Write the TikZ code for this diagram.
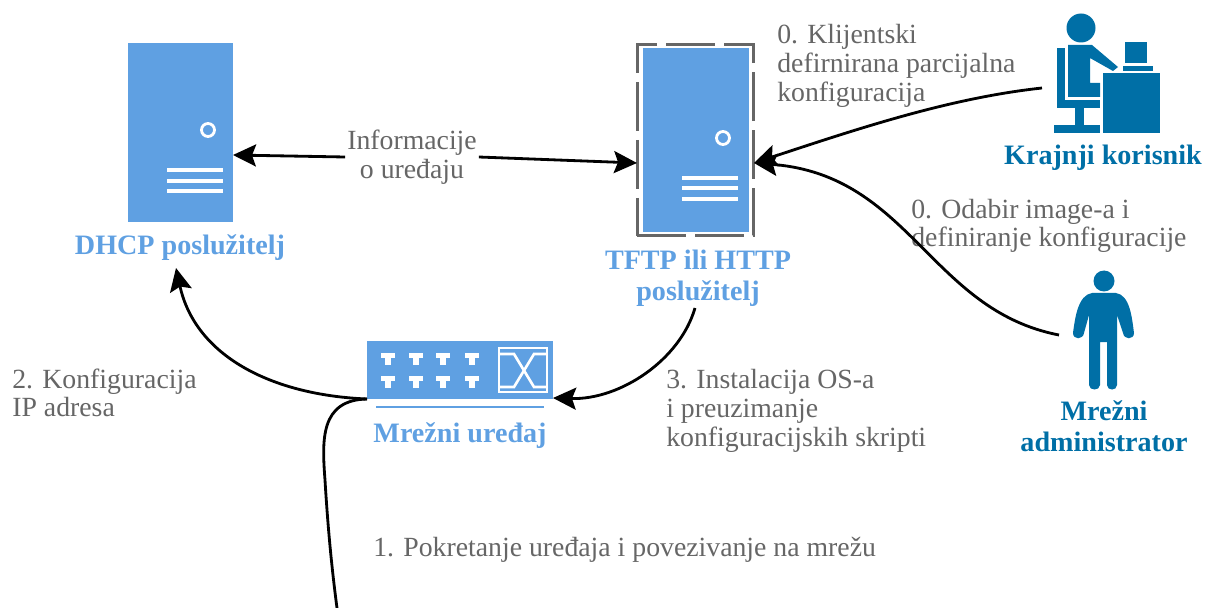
\documentclass[tikz,border=0pt]{standalone}
\usepackage{fontspec}
\setmainfont{Liberation Serif}
\usetikzlibrary{arrows.meta,positioning,calc}

\definecolor{srvblue}{HTML}{5FA0E2}
\definecolor{usrblue}{HTML}{006FA6}
\definecolor{txtgray}{HTML}{666666}

\begin{document}
\begin{tikzpicture}[
    x=0.02cm, y=-0.02cm,
    server/.style={rectangle, fill=srvblue, minimum width=2.1cm, minimum height=3.6cm, inner sep=0pt},
    frame/.style={rectangle, draw=black!60, line width=1.7pt, dash pattern=on 0.98cm off 0.18cm, minimum width=2.34cm, minimum height=3.84cm, inner sep=0pt},
    switch/.style={rectangle, fill=srvblue, minimum width=3.72cm, minimum height=1.16cm, inner sep=0pt},
    srvlabel/.style={font=\fontsize{16}{17.4}\selectfont\bfseries, text=srvblue, align=center},
    usrlabel/.style={font=\fontsize{16}{17.4}\selectfont\bfseries, text=usrblue, align=center},
    step_label/.style={font=\fontsize{15.8}{16.3}\selectfont, text=txtgray, align=left, anchor=west, inner sep=0pt},
    link/.style={-{Stealth[length=0.46cm,width=0.44cm,inset=0.08cm]}, line width=1.6pt},
    plain_link/.style={line width=1.6pt},
    white_bar/.style={white, line width=2.8pt},
    white_line/.style={white, line width=1.5pt}
]
\useasboundingbox (0,0) rectangle (1205,608);

% DHCP server
\node[server] (dhcp) at (180.5,132.5) {};
\draw[white, line width=1.6pt] (208,130) circle (6.5);
\foreach \y in {170,181,191}
    \draw[white_bar] (167,\y) -- (223,\y);
\node[srvlabel] (dhcplabel) at (180,248) {DHCP poslužitelj};

% TFTP server
\node[server, minimum width=2.12cm, minimum height=3.68cm] (tftp) at (696,140) {};
\node[frame] (tftpframe) at (695.5,140) {};
\draw[white, line width=1.6pt] (723,138) circle (6.5);
\foreach \y in {178,188,199}
    \draw[white_bar] (682,\y) -- (738,\y);
\node[srvlabel] (tftplabel) at (698,278) {TFTP ili HTTP\\poslužitelj};

% Switch
\node[switch] (sw) at (460,370) {};
\foreach \x in {388,416,443,472} {
    \foreach \y in {359.5,382.5} {
        \draw[white, line width=2.6pt] (\x-7,\y-4) -- (\x+7,\y-4);
        \draw[white, line width=3.6pt] (\x,\y-4) -- (\x,\y+5.5);
    }
}
\draw[white_line] (499,348) rectangle (547,392);
\draw[white_line] (499,354) -- (514,354) -- (534,387) -- (547,387);
\draw[white_line] (499,387) -- (514,387) -- (534,354) -- (547,354);
\draw[srvblue, line width=1.5pt] (376,407) -- (544,407);
\node[srvlabel] (swlabel) at (460,436) {Mrežni uređaj};

% End user
\fill[usrblue] (1081,28) circle (14.5);
\fill[usrblue] (1057,48) rectangle (1065,108);
\fill[usrblue] (1068,45) -- (1092,45) -- (1118,67) -- (1113,71) -- (1090,58) -- (1090,83) -- (1100,83) -- (1100,97) -- (1068,97) -- cycle;
\fill[usrblue] (1057,100) rectangle (1100,108);
\fill[usrblue] (1075,108) rectangle (1084,125);
\fill[usrblue] (1054,125) rectangle (1100,133);
\fill[usrblue] (1103,73) rectangle (1160,133);
\fill[usrblue] (1125,42) rectangle (1147,63);
\fill[usrblue] (1123,66) rectangle (1153,71);
\node[usrlabel] (userlabel) at (1103,158) {Krajnji korisnik};
\coordinate (userend) at (1042,88);

% Network administrator
\fill[usrblue] (1104,281) circle (10.5);
\fill[usrblue] (1092,293) .. controls (1078,295) and (1075,318) .. (1073,333)
    .. controls (1073,340) and (1083,340) .. (1084,333)
    -- (1089,315) -- (1089,385) .. controls (1089,391) and (1100,391) .. (1100,385)
    -- (1100,342) -- (1107,342) -- (1107,385) .. controls (1107,391) and (1117,391) .. (1117,385)
    -- (1117,315) -- (1123,333) .. controls (1124,340) and (1134,340) .. (1134,333)
    .. controls (1132,318) and (1130,295) .. (1116,293) -- cycle;
\node[usrlabel] (adminlabel) at (1104,426) {Mrežni\\administrator};
\coordinate (adminend) at (1059,335);

% Labels
\node[step_label, fill=white, align=center, anchor=center, inner sep=1pt] (info) at (412,157) {Informacije\\o uređaju};
\node[step_label] (cfg) at (777,66) {0. Klijentski\\defirnirana parcijalna\\konfiguracija};
\node[step_label] (img) at (911,226) {0. Odabir image-a i\\definiranje konfiguracije};
\node[step_label] (ipaddr) at (12,393) {2. Konfiguracija\\IP adresa};
\node[step_label] (install) at (666,411) {3. Instalacija OS-a\\i preuzimanje\\konfiguracijskih skripti};
\node[step_label] (boot) at (373,550) {1. Pokretanje uređaja i povezivanje na mrežu};

% Connectors
\coordinate (dhcpin) at (233,155);
\coordinate (tftpin) at (637,163);
\coordinate (tftpside) at (754,163);
\coordinate (tftpout) at (695,308);
\coordinate (swin) at (553,398);
\coordinate (swout) at (367,399);
\coordinate (dhcpup) at (176,268);
\coordinate (bootend) at (337,608);

\draw[link] (info.west) -- (dhcpin);
\draw[link] (info.east) -- (tftpin);
\draw[link] (userend) .. controls (950,98) and (860,128) .. (tftpside);
\draw[link] (adminend) .. controls (930,310) and (910,175) .. (tftpside);
\draw[link] (tftpout) .. controls (680,360) and (620,400) .. (swin);
\draw[link] (swout) .. controls (270,395) and (195,355) .. (dhcpup);
\draw[plain_link] (swout) .. controls (320,400) and (322,440) .. (325,480) .. controls (328,530) and (332,570) .. (bootend);

\end{tikzpicture}
\end{document}
